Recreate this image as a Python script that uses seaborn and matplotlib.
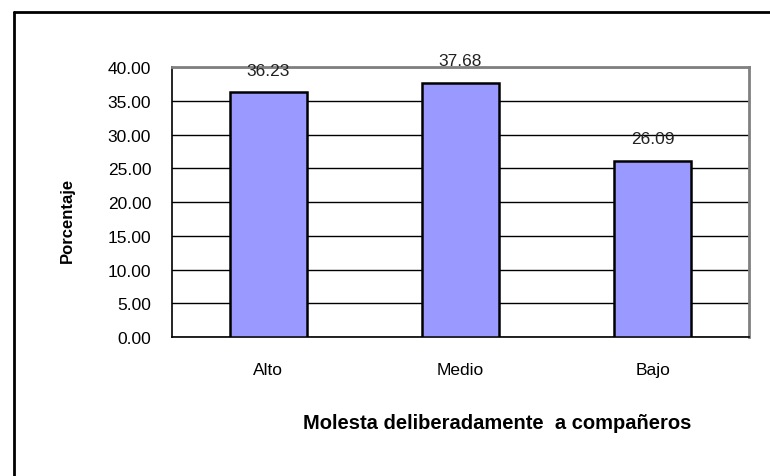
import matplotlib
matplotlib.use("Agg")
import matplotlib.pyplot as plt
from matplotlib.lines import Line2D
import seaborn as sns
import pandas as pd

categorias = ["Alto", "Medio", "Bajo"]
porcentajes = [36.23, 37.68, 26.09]
y_ticks = [0, 5, 10, 15, 20, 25, 30, 35, 40]

df = pd.DataFrame({"nivel": categorias, "pct": porcentajes})

sns.set_style("white")
plt.rcParams["font.family"] = ["Liberation Sans", "DejaVu Sans"]
plt.rcParams["text.color"] = "black"
plt.rcParams["xtick.color"] = "black"
plt.rcParams["ytick.color"] = "black"

fig = plt.figure(figsize=(7.7, 4.77), dpi=100)
ax = fig.add_axes([0.2234, 0.2914, 0.7494, 0.566])

sns.barplot(data=df, x="nivel", y="pct", color="#9999FF", saturation=1,
            width=0.4, edgecolor="black", linewidth=1.8, ax=ax, zorder=3)

ax.set_ylim(0, 40)
ax.set_xlim(-0.5, 2.5)
ax.set_yticks(y_ticks)
ax.set_yticklabels([f"{v:.2f}" for v in y_ticks], fontsize=12.5)
ax.yaxis.grid(True, color="black", linewidth=1.0, zorder=0)
ax.set_axisbelow(True)

# category ticks at the boundaries
ax.set_xticks([-0.5, 0.5, 1.5, 2.5], minor=False)
ax.set_xticklabels([])
ax.set_xticks([0, 1, 2], minor=True)
ax.set_xticklabels(categorias, minor=True, fontsize=12.5)
ax.tick_params(axis="x", which="major", direction="out", length=6, width=1, color="black")
ax.tick_params(axis="x", which="minor", length=0, pad=18)
ax.tick_params(axis="y", direction="inout", length=10, width=1, color="black", pad=10)

for s in ["left", "bottom"]:
    ax.spines[s].set_color("black")
    ax.spines[s].set_linewidth(1.2)
for s in ["top", "right"]:
    ax.spines[s].set_color("#808080")
    ax.spines[s].set_linewidth(2)

for i, v in enumerate(porcentajes):
    ax.text(i, v + 3.3, f"{v:.2f}", ha="center", va="center", fontsize=12.5, color="#222222")

ax.set_xlabel("")
ax.set_ylabel("")
fig.text(67 / 770, 1 - 220 / 477, "Porcentaje", rotation=90, ha="center", va="center",
         fontsize=12, fontweight="bold")
fig.text(497 / 770, 1 - 424 / 477, "Molesta deliberadamente  a compañeros", ha="center", va="center",
         fontsize=14.5, fontweight="bold")

# outer frame (left and top only visible)
fig.add_artist(Line2D([13.5 / 770, 13.5 / 770], [0, 1 - 12.5 / 477], transform=fig.transFigure,
                      color="black", linewidth=2))
fig.add_artist(Line2D([13.5 / 770, 1], [1 - 12.5 / 477, 1 - 12.5 / 477], transform=fig.transFigure,
                      color="black", linewidth=2))

fig.savefig("out.png", dpi=100)
